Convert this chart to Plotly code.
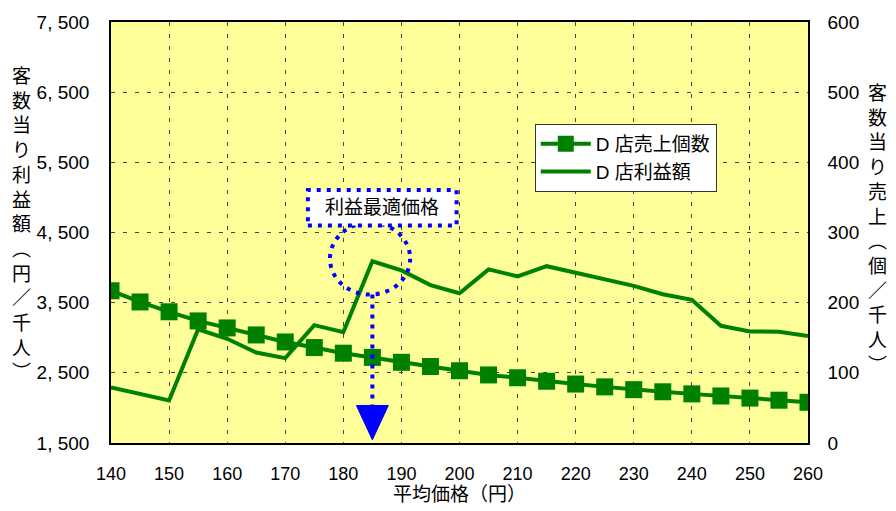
import plotly.graph_objects as go

# ---- data ----
prices = [140, 145, 150, 155, 160, 165, 170, 175, 180, 185, 190, 195, 200,
          205, 210, 215, 220, 225, 230, 235, 240, 245, 250, 255, 260]
sales_d = [217, 201, 187, 174, 164, 154, 144, 136, 128, 122, 115, 109, 103,
           97, 93, 88, 84, 80, 76, 73, 70, 67, 64, 61, 58]
profit_d = [2290, 2200, 2105, 3120, 2985, 2790, 2710, 3180, 3080, 4090, 3960, 3750, 3635,
            3975, 3875, 4020, 3925, 3835, 3740, 3620, 3540, 3170, 3090, 3085, 3025]
left_ticks = [1500, 2500, 3500, 4500, 5500, 6500, 7500]
left_ticktext = ["1, 500", "2, 500", "3, 500", "4, 500", "5, 500", "6, 500", "7, 500"]
right_ticks = [0, 100, 200, 300, 400, 500, 600]
x_ticks = list(range(140, 261, 10))
opt_price = 185
opt_label = "利益最適価格"
left_title = "客数当り利益額︵円／千人︶"
right_title = "客数当り売上︵個／千人︶"
x_title = "平均価格（円）"

GREEN = "#008000"
BLUE = "#0000FF"
FONT = "Liberation Sans, Arial, Noto Sans CJK JP, sans-serif"

fig = go.Figure()
fig.add_trace(go.Scatter(x=prices, y=profit_d, name="D 店利益額", mode="lines",
                         line=dict(color=GREEN, width=4), yaxis="y", showlegend=False))
fig.add_trace(go.Scatter(x=prices, y=sales_d, name="D 店売上個数", mode="lines+markers",
                         line=dict(color=GREEN, width=4),
                         marker=dict(symbol="square", size=17, color=GREEN),
                         yaxis="y2"))
# legend-only entry for profit (so order matches)
fig.add_trace(go.Scatter(x=[None], y=[None], name="D 店利益額", mode="lines",
                         line=dict(color=GREEN, width=4), yaxis="y"))

grid = dict(showgrid=True, gridcolor="#444444", griddash="4px,8px", gridwidth=1)

fig.update_layout(
    width=896, height=511,
    margin=dict(l=111, r=88, t=17, b=68),
    paper_bgcolor="white", plot_bgcolor="#FFFF99",
    font=dict(family=FONT, size=19, color="black"),
    xaxis=dict(range=[140, 260], tickvals=x_ticks, showline=True, linecolor="black",
               linewidth=1.5, mirror=True, ticks="", ticklabelstandoff=14,
               tickfont=dict(size=18), zeroline=False, **grid),
    yaxis=dict(range=[1500, 7500], tickvals=left_ticks, ticktext=left_ticktext,
               showline=True, linecolor="black", linewidth=1.5, mirror=True,
               ticks="", ticklabelstandoff=16, zeroline=False, **grid),
    yaxis2=dict(range=[0, 600], tickvals=right_ticks, overlaying="y", side="right",
                showgrid=False, zeroline=False, ticks="", ticklabelstandoff=14,
                showline=True, linecolor="black", linewidth=1.5),
    legend=dict(x=0.608, y=0.758, xanchor="left", yanchor="top",
                bgcolor="white", bordercolor="#333333", borderwidth=1,
                font=dict(size=19), itemwidth=50, tracegroupgap=2),
)

# callout: loop around peak, box, dotted arrow, triangle
box_x0, box_x1 = opt_price - 11.1, opt_price + 14.5
box_y0, box_y1 = 4600, 5105
loop_x0, loop_x1 = opt_price - 7.3, opt_price + 6.5
loop_y0, loop_y1 = 3615, 4640
arrow_y_top, arrow_y_bot = 3615, 2035
tri_half, tri_tip = 2.75, 1545

dot = "4px,6px"
fig.add_shape(type="circle", xref="x", yref="y", x0=loop_x0, x1=loop_x1, y0=loop_y0, y1=loop_y1,
              line=dict(color=BLUE, width=4, dash=dot), layer="above")
fig.add_shape(type="line", xref="x", yref="y", x0=opt_price, x1=opt_price,
              y0=arrow_y_top, y1=arrow_y_bot,
              line=dict(color=BLUE, width=4, dash=dot), layer="above")
fig.add_shape(type="path", xref="x", yref="y",
              path=f"M {opt_price - tri_half},{arrow_y_bot} L {opt_price + tri_half},{arrow_y_bot} L {opt_price},{tri_tip} Z",
              fillcolor=BLUE, line=dict(color=BLUE, width=1), layer="above")
fig.add_shape(type="rect", xref="x", yref="y", x0=box_x0, x1=box_x1, y0=box_y0, y1=box_y1,
              fillcolor="white", line=dict(color=BLUE, width=4, dash=dot), layer="above")
fig.add_annotation(x=(box_x0 + box_x1) / 2, y=(box_y0 + box_y1) / 2, xref="x", yref="y",
                   text=opt_label, showarrow=False, font=dict(size=19))

# vertical axis titles
fig.add_annotation(x=-0.1277, y=0.52, xref="paper", yref="paper",
                   text="<br>".join(left_title), showarrow=False,
                   xanchor="center", yanchor="middle", font=dict(size=19))
fig.add_annotation(x=1.099, y=0.506, xref="paper", yref="paper",
                   text="<br>".join(right_title), showarrow=False,
                   xanchor="center", yanchor="middle", font=dict(size=19))
fig.add_annotation(x=0.4993, y=-0.122, xref="paper", yref="paper",
                   text=x_title, showarrow=False,
                   xanchor="center", yanchor="middle", font=dict(size=19))

fig.write_html("out.html", config={"displayModeBar": False},
               post_script="document.body.style.margin='0';document.body.style.overflow='hidden';")
